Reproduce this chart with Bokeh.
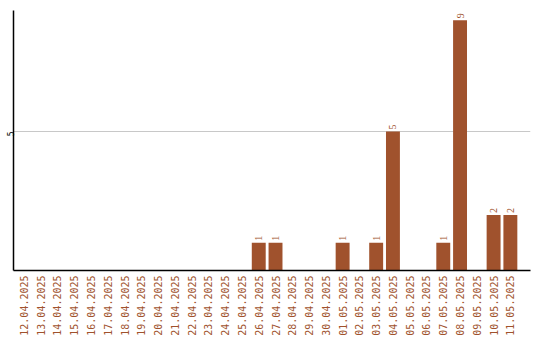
from bokeh.plotting import figure
from bokeh.models import ColumnDataSource, Range1d, FixedTicker, LabelSet
from bokeh.embed import file_html
from bokeh.resources import INLINE
import math

dates = [
    "12.04.2025", "13.04.2025", "14.04.2025", "15.04.2025", "16.04.2025",
    "17.04.2025", "18.04.2025", "19.04.2025", "20.04.2025", "21.04.2025",
    "22.04.2025", "23.04.2025", "24.04.2025", "25.04.2025", "26.04.2025",
    "27.04.2025", "28.04.2025", "29.04.2025", "30.04.2025", "01.05.2025",
    "02.05.2025", "03.05.2025", "04.05.2025", "05.05.2025", "06.05.2025",
    "07.05.2025", "08.05.2025", "09.05.2025", "10.05.2025", "11.05.2025",
]
counts = [0, 0, 0, 0, 0, 0, 0, 0, 0, 0, 0, 0, 0, 0, 1,
          1, 0, 0, 0, 1, 0, 1, 5, 0, 0, 1, 9, 0, 2, 2]
y_ticks = [5]

BROWN = "#A0522D"
MONO = "DejaVu Sans Mono"

pos = [i + 0.5 for i in range(len(dates))]
nz = [i for i, c in enumerate(counts) if c > 0]
bars = ColumnDataSource(dict(x=[pos[i] for i in nz], top=[counts[i] for i in nz],
                             label=[str(counts[i]) for i in nz]))

p = figure(frame_width=517, frame_height=260, output_backend="svg",
           toolbar_location=None, x_range=Range1d(-0.12, 30.7), y_range=Range1d(0, 9.35),
           min_border_left=11, min_border_top=10, min_border_right=10, min_border_bottom=0)
p.outline_line_color = None
p.background_fill_color = "white"
p.border_fill_color = "white"

p.vbar(x="x", top="top", width=0.83, source=bars, color=BROWN, line_color=None)

labels = LabelSet(x="x", y="top", text="label", source=bars, angle=math.pi / 2,
                  text_align="left", text_baseline="middle", x_offset=0, y_offset=2,
                  text_color=BROWN, text_font=MONO, text_font_size="10px")
p.add_layout(labels)

p.xaxis.ticker = FixedTicker(ticks=pos)
p.xaxis.major_label_overrides = {x: d for x, d in zip(pos, dates)}
p.xaxis.major_label_orientation = math.pi / 2
p.xaxis.major_label_text_color = BROWN
p.xaxis.major_label_text_font = MONO
p.xaxis.major_label_text_font_size = "10px"
p.xaxis.major_label_standoff = 5
p.xaxis.major_tick_out = 0
p.xaxis.major_tick_in = 0
p.xaxis.minor_tick_out = 0
p.xaxis.minor_tick_in = 0
p.xaxis.major_tick_line_color = None
p.xaxis.minor_tick_line_color = None
p.xaxis.axis_line_color = "black"
p.xaxis.axis_line_width = 1.5

p.yaxis.ticker = FixedTicker(ticks=y_ticks)
p.yaxis.major_label_orientation = math.pi / 2
p.yaxis.major_label_text_color = "black"
p.yaxis.major_label_text_font = MONO
p.yaxis.major_label_text_font_size = "8px"
p.yaxis.major_label_text_baseline = "bottom"
p.yaxis.major_label_standoff = 3
p.yaxis.major_tick_out = 0
p.yaxis.major_tick_in = 0
p.yaxis.minor_tick_out = 0
p.yaxis.minor_tick_in = 0
p.yaxis.major_tick_line_color = None
p.yaxis.minor_tick_line_color = None
p.yaxis.axis_line_color = "black"
p.yaxis.axis_line_width = 1.5

p.xgrid.grid_line_color = None
p.ygrid.ticker = FixedTicker(ticks=y_ticks)
p.ygrid.grid_line_color = "#c8c8c8"
p.ygrid.grid_line_width = 1

open("out.html", "w").write(file_html(p, INLINE))
